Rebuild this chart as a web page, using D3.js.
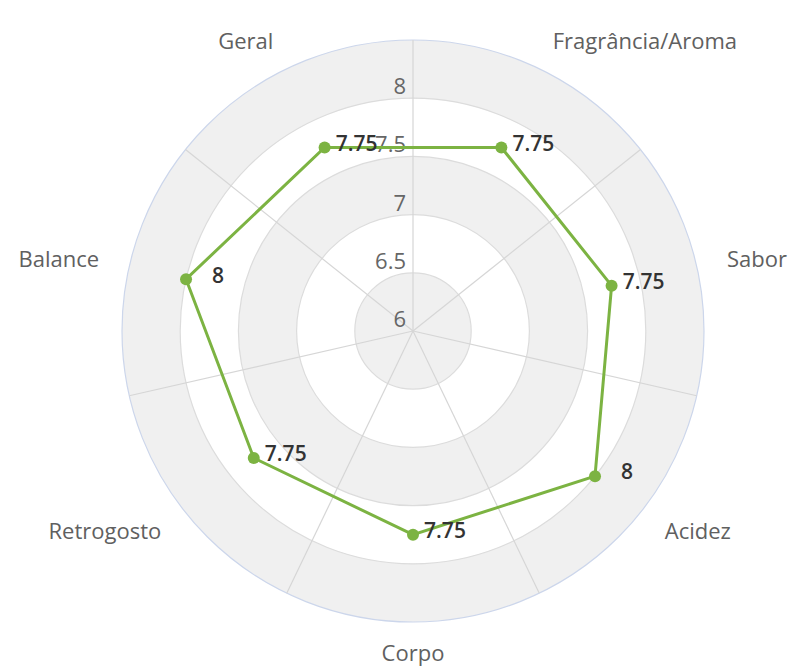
<!DOCTYPE html>
<html>
<head>
<meta charset="utf-8">
<script src="https://cdn.jsdelivr.net/npm/d3@7"></script>
<style>
  body { margin: 0; background: #fff; }
  text { font-family: "Open Sans", sans-serif; }
</style>
</head>
<body>
<div id="chart"></div>
<script>
var width = 788, height = 666,
    cx = 413, cy = 331,
    outerRadius = 291;

// DATA
var categories = ["Fragrância/Aroma", "Sabor", "Acidez", "Corpo", "Retrogosto", "Balance", "Geral"];
var values = [7.75, 7.75, 8, 7.75, 7.75, 8, 7.75];
var tickValues = [6, 6.5, 7, 7.5, 8];
var ringValues = [6.5, 7, 7.5, 8, 8.5];

var r = d3.scaleLinear().domain([6, 8.5]).range([0, outerRadius]);
var angle = d3.scaleLinear().domain([0, categories.length]).range([0, 2 * Math.PI]);

function px(a, rad) { return rad * Math.sin(a); }
function py(a, rad) { return -rad * Math.cos(a); }

var svg = d3.select("#chart").append("svg")
    .attr("width", width)
    .attr("height", height);

var g = svg.append("g")
    .attr("transform", "translate(" + cx + "," + cy + ")");

// BANDS (alternating, outermost grey)
var bandArc = d3.arc().startAngle(0).endAngle(2 * Math.PI);
var bands = [6].concat(ringValues.slice(0, -1)).map(function(v, i) {
  return { inner: v, outer: ringValues[i], grey: i % 2 === 0 };
});
g.selectAll("path.band")
  .data(bands)
  .enter().append("path")
  .attr("class", "band")
  .attr("d", function(d) { return bandArc({ innerRadius: r(d.inner), outerRadius: r(d.outer) }); })
  .style("fill", function(d) { return d.grey ? "#f0f0f0" : "#ffffff"; });

// RING LINES
g.selectAll("circle.ring")
  .data(ringValues)
  .enter().append("circle")
  .attr("class", "ring")
  .attr("r", function(d) { return r(d); })
  .style("fill", "none")
  .style("stroke", function(d, i) { return i === ringValues.length - 1 ? "#ccd6eb" : "#dcdcdc"; })
  .style("stroke-width", 1.2);

// SPOKES
g.selectAll("line.spoke")
  .data(d3.range(categories.length))
  .enter().append("line")
  .attr("class", "spoke")
  .attr("x1", 0).attr("y1", 0)
  .attr("x2", function(i) { return px(angle(i), outerRadius); })
  .attr("y2", function(i) { return py(angle(i), outerRadius); })
  .style("stroke", "#d6d6d6")
  .style("stroke-width", 1.2);

// TICK LABELS
g.selectAll("text.tick")
  .data(tickValues)
  .enter().append("text")
  .attr("class", "tick")
  .attr("x", -7)
  .attr("y", function(d) { return -r(d) - 4; })
  .attr("text-anchor", "end")
  .style("font-size", "22px")
  .style("fill", "#666")
  .text(function(d) { return d; });

// CATEGORY LABELS
g.selectAll("text.cat")
  .data(categories)
  .enter().append("text")
  .attr("class", "cat")
  .each(function(d, i) {
    var a = angle(i + 0.5), x = px(a, 322), y = py(a, 322);
    d3.select(this)
      .attr("x", x).attr("y", y).attr("dy", "0.35em")
      .attr("text-anchor", Math.abs(x) < 10 ? "middle" : (x > 0 ? "start" : "end"));
  })
  .style("font-size", "22px")
  .style("fill", "#606060")
  .text(function(d) { return d; });

// SERIES
var points = values.map(function(v, i) {
  var a = angle(i + 0.5);
  return { v: v, x: px(a, r(v)), y: py(a, r(v)) };
});

var line = d3.line()
  .x(function(d) { return d.x; })
  .y(function(d) { return d.y; })
  .curve(d3.curveLinearClosed);

g.append("path")
  .datum(points)
  .attr("d", line)
  .style("fill", "none")
  .style("stroke", "#7cb342")
  .style("stroke-width", 3);

g.selectAll("circle.dot")
  .data(points)
  .enter().append("circle")
  .attr("class", "dot")
  .attr("cx", function(d) { return d.x; })
  .attr("cy", function(d) { return d.y; })
  .attr("r", 6)
  .style("fill", "#7cb342");

// DATA LABELS
g.selectAll("text.val")
  .data(points)
  .enter().append("text")
  .attr("class", "val")
  .attr("x", function(d) { return d.x + 32; })
  .attr("y", function(d) { return d.y - 4; })
  .attr("dy", "0.35em")
  .attr("text-anchor", "middle")
  .style("font-size", "21px")
  .style("font-weight", "600")
  .style("fill", "#333")
  .text(function(d) { return d.v; });
</script>
</body>
</html>
